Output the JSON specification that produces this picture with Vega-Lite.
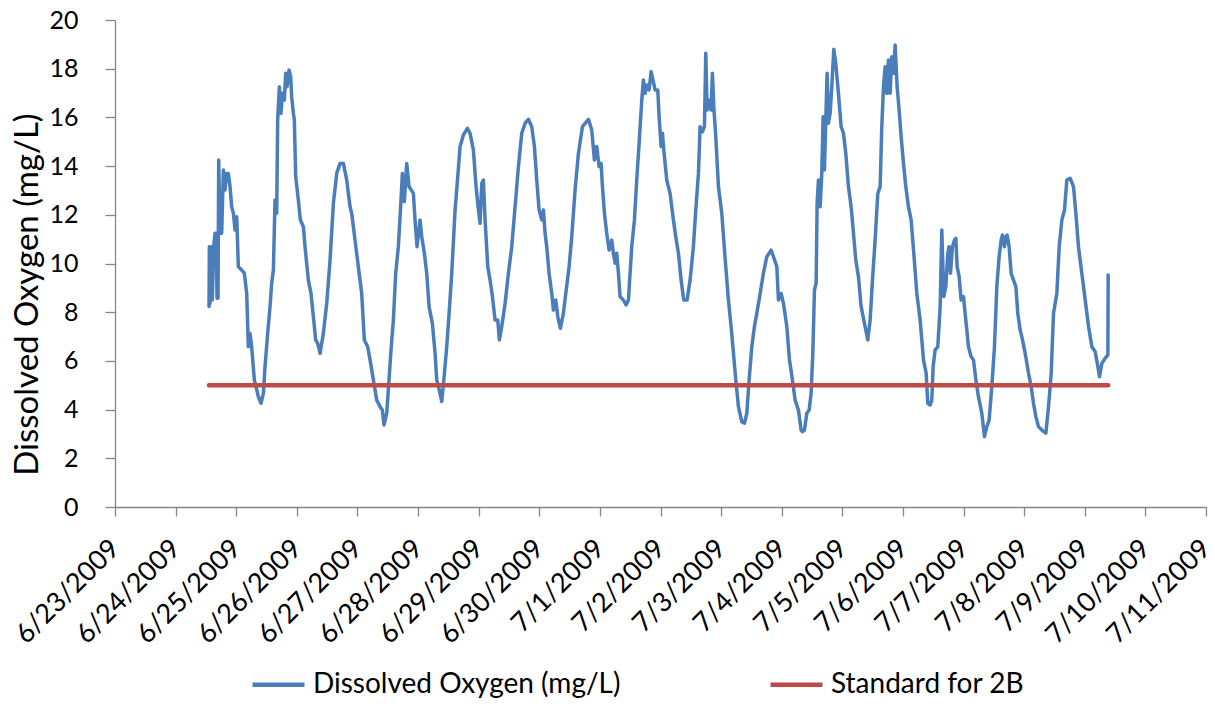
{
  "$schema": "https://vega.github.io/schema/vega-lite/v6.json",
  "width": 1091,
  "height": 487,
  "autosize": {"type": "none"},
  "padding": {"left": 115, "top": 20, "right": 9, "bottom": 197},
  "background": "white",
  "config": {
    "view": {"stroke": null},
    "font": "Lato",
    "axis": {"labelFont": "Lato", "titleFont": "Lato", "labelColor": "#000000", "titleColor": "#000000", "domainColor": "#868686", "tickColor": "#868686", "domainWidth": 1.3, "tickWidth": 1.3, "grid": false},
    "legend": {"labelFont": "Lato", "labelColor": "#000000"}
  },
  "datasets": {
    "oxygen": [
      {"day": 1.551, "do": 8.23}, {"day": 1.557, "do": 10.69}, {"day": 1.568, "do": 8.36}, {"day": 1.584, "do": 10.69}, {"day": 1.606, "do": 8.50}, {"day": 1.628, "do": 10.69}, {"day": 1.650, "do": 11.24}, {"day": 1.672, "do": 11.24}, {"day": 1.683, "do": 8.57}, {"day": 1.700, "do": 8.57}, {"day": 1.711, "do": 14.25}, {"day": 1.733, "do": 11.24}, {"day": 1.760, "do": 11.24}, {"day": 1.788, "do": 13.84}, {"day": 1.815, "do": 13.02}, {"day": 1.843, "do": 13.70}, {"day": 1.870, "do": 13.70}, {"day": 1.898, "do": 13.16}, {"day": 1.925, "do": 12.33}, {"day": 1.953, "do": 12.06}, {"day": 1.980, "do": 11.38}, {"day": 2.008, "do": 11.92}, {"day": 2.035, "do": 9.87}, {"day": 2.090, "do": 9.73}, {"day": 2.134, "do": 9.60}, {"day": 2.173, "do": 8.77}, {"day": 2.200, "do": 6.58}, {"day": 2.228, "do": 7.13}, {"day": 2.255, "do": 6.58}, {"day": 2.299, "do": 5.22}, {"day": 2.365, "do": 4.53}, {"day": 2.409, "do": 4.26}, {"day": 2.448, "do": 4.67}, {"day": 2.475, "do": 5.76}, {"day": 2.519, "do": 7.13}, {"day": 2.558, "do": 8.23}, {"day": 2.585, "do": 9.19}, {"day": 2.613, "do": 9.73}, {"day": 2.640, "do": 12.61}, {"day": 2.668, "do": 12.06}, {"day": 2.684, "do": 15.89}, {"day": 2.712, "do": 17.26}, {"day": 2.739, "do": 16.17}, {"day": 2.761, "do": 16.99}, {"day": 2.794, "do": 16.71}, {"day": 2.816, "do": 17.81}, {"day": 2.838, "do": 17.26}, {"day": 2.871, "do": 17.95}, {"day": 2.899, "do": 17.67}, {"day": 2.915, "do": 16.85}, {"day": 2.943, "do": 16.17}, {"day": 2.959, "do": 15.89}, {"day": 2.981, "do": 13.57}, {"day": 3.025, "do": 12.61}, {"day": 3.058, "do": 11.79}, {"day": 3.108, "do": 11.51}, {"day": 3.135, "do": 10.69}, {"day": 3.190, "do": 9.32}, {"day": 3.234, "do": 8.77}, {"day": 3.273, "do": 7.82}, {"day": 3.311, "do": 6.86}, {"day": 3.344, "do": 6.72}, {"day": 3.383, "do": 6.31}, {"day": 3.438, "do": 7.13}, {"day": 3.493, "do": 8.36}, {"day": 3.548, "do": 10.14}, {"day": 3.603, "do": 12.47}, {"day": 3.658, "do": 13.70}, {"day": 3.713, "do": 14.11}, {"day": 3.768, "do": 14.11}, {"day": 3.823, "do": 13.43}, {"day": 3.878, "do": 12.33},
      {"day": 3.905, "do": 12.06}, {"day": 3.960, "do": 10.96}, {"day": 4.015, "do": 9.87}, {"day": 4.070, "do": 8.77}, {"day": 4.114, "do": 6.86}, {"day": 4.169, "do": 6.58}, {"day": 4.208, "do": 6.04}, {"day": 4.263, "do": 5.22}, {"day": 4.318, "do": 4.39}, {"day": 4.373, "do": 4.12}, {"day": 4.411, "do": 3.98}, {"day": 4.439, "do": 3.37}, {"day": 4.483, "do": 3.85}, {"day": 4.521, "do": 5.22}, {"day": 4.554, "do": 6.45}, {"day": 4.593, "do": 7.68}, {"day": 4.631, "do": 9.60}, {"day": 4.675, "do": 10.69}, {"day": 4.719, "do": 12.61}, {"day": 4.741, "do": 13.70}, {"day": 4.774, "do": 12.54}, {"day": 4.813, "do": 14.11}, {"day": 4.851, "do": 13.16}, {"day": 4.923, "do": 12.88}, {"day": 4.950, "do": 11.79}, {"day": 4.983, "do": 10.69}, {"day": 5.033, "do": 11.79}, {"day": 5.061, "do": 11.10}, {"day": 5.104, "do": 10.42}, {"day": 5.143, "do": 9.60}, {"day": 5.182, "do": 8.23}, {"day": 5.236, "do": 7.54}, {"day": 5.281, "do": 6.31}, {"day": 5.308, "do": 5.22}, {"day": 5.363, "do": 4.67}, {"day": 5.391, "do": 4.33}, {"day": 5.435, "do": 5.49}, {"day": 5.473, "do": 6.58}, {"day": 5.512, "do": 7.95}, {"day": 5.556, "do": 9.60}, {"day": 5.611, "do": 12.20}, {"day": 5.655, "do": 13.57}, {"day": 5.693, "do": 14.80}, {"day": 5.748, "do": 15.28}, {"day": 5.814, "do": 15.55}, {"day": 5.858, "do": 15.35}, {"day": 5.913, "do": 14.66}, {"day": 5.957, "do": 13.16}, {"day": 5.996, "do": 12.20}, {"day": 6.023, "do": 11.65}, {"day": 6.051, "do": 13.29}, {"day": 6.078, "do": 13.43}, {"day": 6.106, "do": 11.79}, {"day": 6.150, "do": 9.87}, {"day": 6.188, "do": 9.32}, {"day": 6.227, "do": 8.64}, {"day": 6.271, "do": 7.68}, {"day": 6.315, "do": 7.68}, {"day": 6.342, "do": 6.86}, {"day": 6.381, "do": 7.41},
      {"day": 6.436, "do": 8.36}, {"day": 6.491, "do": 9.60}, {"day": 6.546, "do": 10.69}, {"day": 6.601, "do": 12.33}, {"day": 6.656, "do": 13.98}, {"day": 6.711, "do": 15.35}, {"day": 6.766, "do": 15.76}, {"day": 6.821, "do": 15.92}, {"day": 6.876, "do": 15.62}, {"day": 6.920, "do": 14.80}, {"day": 6.958, "do": 13.43}, {"day": 6.997, "do": 12.20}, {"day": 7.041, "do": 11.79}, {"day": 7.068, "do": 12.20}, {"day": 7.096, "do": 11.24}, {"day": 7.123, "do": 10.69}, {"day": 7.162, "do": 9.60}, {"day": 7.206, "do": 8.77}, {"day": 7.233, "do": 8.09}, {"day": 7.272, "do": 8.50}, {"day": 7.305, "do": 7.82}, {"day": 7.349, "do": 7.34}, {"day": 7.398, "do": 7.95}, {"day": 7.437, "do": 8.77}, {"day": 7.492, "do": 9.87}, {"day": 7.536, "do": 11.10}, {"day": 7.591, "do": 13.02}, {"day": 7.646, "do": 14.52}, {"day": 7.712, "do": 15.62}, {"day": 7.811, "do": 15.92}, {"day": 7.866, "do": 15.48}, {"day": 7.910, "do": 14.25}, {"day": 7.948, "do": 14.80}, {"day": 7.987, "do": 13.98}, {"day": 8.020, "do": 14.11}, {"day": 8.042, "do": 13.16}, {"day": 8.075, "do": 12.06}, {"day": 8.113, "do": 11.24}, {"day": 8.152, "do": 10.55}, {"day": 8.196, "do": 10.96}, {"day": 8.223, "do": 10.42}, {"day": 8.251, "do": 10.01}, {"day": 8.278, "do": 10.42}, {"day": 8.306, "do": 9.60}, {"day": 8.333, "do": 8.64}, {"day": 8.388, "do": 8.50}, {"day": 8.432, "do": 8.30}, {"day": 8.471, "do": 8.50}, {"day": 8.498, "do": 9.60}, {"day": 8.526, "do": 10.69}, {"day": 8.570, "do": 11.79}, {"day": 8.608, "do": 13.43}, {"day": 8.647, "do": 14.93}, {"day": 8.691, "do": 16.71}, {"day": 8.718, "do": 17.54}, {"day": 8.746, "do": 16.99}, {"day": 8.773, "do": 17.33}, {"day": 8.812, "do": 17.13}, {"day": 8.845, "do": 17.88},
      {"day": 8.911, "do": 17.13}, {"day": 8.955, "do": 17.13}, {"day": 8.977, "do": 16.03}, {"day": 9.010, "do": 14.80}, {"day": 9.032, "do": 15.35}, {"day": 9.054, "do": 14.66}, {"day": 9.103, "do": 13.43}, {"day": 9.158, "do": 12.88}, {"day": 9.213, "do": 11.79}, {"day": 9.252, "do": 11.10}, {"day": 9.296, "do": 10.42}, {"day": 9.340, "do": 9.32}, {"day": 9.384, "do": 8.50}, {"day": 9.439, "do": 8.50}, {"day": 9.488, "do": 9.32}, {"day": 9.543, "do": 10.69}, {"day": 9.582, "do": 12.20}, {"day": 9.626, "do": 13.70}, {"day": 9.653, "do": 15.62}, {"day": 9.692, "do": 15.41}, {"day": 9.725, "do": 15.62}, {"day": 9.747, "do": 18.63}, {"day": 9.769, "do": 16.30}, {"day": 9.807, "do": 16.71}, {"day": 9.835, "do": 16.30}, {"day": 9.857, "do": 17.81}, {"day": 9.879, "do": 16.44}, {"day": 9.912, "do": 15.21}, {"day": 9.956, "do": 13.16}, {"day": 10.011, "do": 12.06}, {"day": 10.044, "do": 10.96}, {"day": 10.077, "do": 9.87}, {"day": 10.121, "do": 8.50}, {"day": 10.165, "do": 7.41}, {"day": 10.204, "do": 6.31}, {"day": 10.242, "do": 5.22}, {"day": 10.286, "do": 4.12}, {"day": 10.341, "do": 3.50}, {"day": 10.385, "do": 3.44}, {"day": 10.424, "do": 3.85}, {"day": 10.462, "do": 5.22}, {"day": 10.506, "do": 6.58}, {"day": 10.550, "do": 7.41}, {"day": 10.589, "do": 7.95}, {"day": 10.644, "do": 8.77}, {"day": 10.698, "do": 9.60}, {"day": 10.754, "do": 10.28}, {"day": 10.792, "do": 10.42}, {"day": 10.825, "do": 10.55}, {"day": 10.864, "do": 10.28}, {"day": 10.919, "do": 9.87}, {"day": 10.946, "do": 8.50}, {"day": 10.990, "do": 8.77}, {"day": 11.029, "do": 8.36}, {"day": 11.084, "do": 7.41}, {"day": 11.128, "do": 6.04}, {"day": 11.177, "do": 5.22}, {"day": 11.221, "do": 4.39}, {"day": 11.276, "do": 3.98}, {"day": 11.320, "do": 3.16},
      {"day": 11.342, "do": 3.09}, {"day": 11.375, "do": 3.16}, {"day": 11.414, "do": 3.85}, {"day": 11.452, "do": 3.98}, {"day": 11.485, "do": 4.67}, {"day": 11.513, "do": 6.31}, {"day": 11.540, "do": 8.91}, {"day": 11.568, "do": 9.19}, {"day": 11.584, "do": 12.47}, {"day": 11.606, "do": 13.43}, {"day": 11.634, "do": 12.33}, {"day": 11.661, "do": 13.70}, {"day": 11.683, "do": 16.03}, {"day": 11.705, "do": 13.84}, {"day": 11.727, "do": 15.89}, {"day": 11.749, "do": 17.81}, {"day": 11.771, "do": 15.76}, {"day": 11.799, "do": 16.17}, {"day": 11.826, "do": 17.26}, {"day": 11.859, "do": 18.80}, {"day": 11.892, "do": 18.22}, {"day": 11.936, "do": 16.99}, {"day": 11.980, "do": 15.62}, {"day": 12.019, "do": 15.35}, {"day": 12.057, "do": 14.52}, {"day": 12.101, "do": 13.16}, {"day": 12.145, "do": 12.33}, {"day": 12.184, "do": 11.24}, {"day": 12.222, "do": 10.14}, {"day": 12.266, "do": 9.46}, {"day": 12.310, "do": 8.23}, {"day": 12.376, "do": 7.41}, {"day": 12.420, "do": 6.86}, {"day": 12.459, "do": 7.68}, {"day": 12.497, "do": 9.32}, {"day": 12.541, "do": 10.96}, {"day": 12.585, "do": 12.88}, {"day": 12.624, "do": 13.16}, {"day": 12.651, "do": 15.62}, {"day": 12.679, "do": 17.26}, {"day": 12.706, "do": 18.08}, {"day": 12.734, "do": 16.99}, {"day": 12.761, "do": 18.36}, {"day": 12.789, "do": 16.99}, {"day": 12.816, "do": 18.49}, {"day": 12.844, "do": 17.81}, {"day": 12.871, "do": 18.97}, {"day": 12.904, "do": 17.26}, {"day": 12.937, "do": 16.30}, {"day": 12.970, "do": 15.21}, {"day": 13.009, "do": 14.11}, {"day": 13.047, "do": 13.16}, {"day": 13.091, "do": 12.33}, {"day": 13.135, "do": 11.79}, {"day": 13.179, "do": 10.42}, {"day": 13.229, "do": 8.77}, {"day": 13.284, "do": 7.68}, {"day": 13.339, "do": 6.04}, {"day": 13.383, "do": 5.49}, {"day": 13.410, "do": 4.26}, {"day": 13.449, "do": 4.19}, {"day": 13.476, "do": 4.39}, {"day": 13.498, "do": 5.76}, {"day": 13.531, "do": 6.45}, {"day": 13.575, "do": 6.58}, {"day": 13.614, "do": 8.23}, {"day": 13.641, "do": 11.38}, {"day": 13.674, "do": 8.64}, {"day": 13.707, "do": 9.05}, {"day": 13.740, "do": 10.42}, {"day": 13.762, "do": 10.69}, {"day": 13.784, "do": 9.60}, {"day": 13.817, "do": 10.69},
      {"day": 13.850, "do": 10.96}, {"day": 13.873, "do": 11.03}, {"day": 13.894, "do": 9.87}, {"day": 13.927, "do": 9.46}, {"day": 13.960, "do": 8.50}, {"day": 13.999, "do": 8.64}, {"day": 14.037, "do": 7.68}, {"day": 14.081, "do": 6.58}, {"day": 14.125, "do": 6.17}, {"day": 14.164, "do": 6.04}, {"day": 14.203, "do": 5.22}, {"day": 14.246, "do": 4.53}, {"day": 14.301, "do": 3.85}, {"day": 14.345, "do": 2.89}, {"day": 14.384, "do": 3.30}, {"day": 14.422, "do": 3.57}, {"day": 14.466, "do": 4.94}, {"day": 14.510, "do": 6.58}, {"day": 14.549, "do": 9.05}, {"day": 14.587, "do": 10.28}, {"day": 14.620, "do": 10.96}, {"day": 14.642, "do": 11.17}, {"day": 14.675, "do": 10.69}, {"day": 14.697, "do": 11.10}, {"day": 14.719, "do": 11.17}, {"day": 14.752, "do": 10.69}, {"day": 14.785, "do": 9.60}, {"day": 14.824, "do": 9.32}, {"day": 14.863, "do": 9.05}, {"day": 14.895, "do": 7.95}, {"day": 14.934, "do": 7.27}, {"day": 14.973, "do": 6.86}, {"day": 15.017, "do": 6.31}, {"day": 15.072, "do": 5.49}, {"day": 15.116, "do": 4.94}, {"day": 15.154, "do": 4.26}, {"day": 15.193, "do": 3.71}, {"day": 15.237, "do": 3.30}, {"day": 15.292, "do": 3.16}, {"day": 15.358, "do": 3.03}, {"day": 15.402, "do": 4.12}, {"day": 15.446, "do": 5.49}, {"day": 15.484, "do": 7.95}, {"day": 15.539, "do": 8.77}, {"day": 15.578, "do": 10.69}, {"day": 15.622, "do": 11.79}, {"day": 15.666, "do": 12.20}, {"day": 15.704, "do": 13.43}, {"day": 15.759, "do": 13.50}, {"day": 15.814, "do": 13.16}, {"day": 15.853, "do": 12.06}, {"day": 15.896, "do": 10.69}, {"day": 15.951, "do": 9.60}, {"day": 16.007, "do": 8.50}, {"day": 16.062, "do": 7.41}, {"day": 16.117, "do": 6.58}, {"day": 16.172, "do": 6.38}, {"day": 16.216, "do": 5.76}, {"day": 16.243, "do": 5.35}, {"day": 16.282, "do": 5.90}, {"day": 16.337, "do": 6.11}, {"day": 16.381, "do": 6.24}, {"day": 16.386, "do": 9.53}
    ],
    "standard": [
      {"day": 1.551, "do": 5},
      {"day": 16.386, "do": 5}
    ]
  },
  "layer": [
    {
      "data": {"name": "oxygen"},
      "mark": {"type": "line", "strokeWidth": 3.5, "strokeJoin": "round", "strokeCap": "round"},
      "encoding": {
        "x": {
          "field": "day",
          "type": "quantitative",
          "scale": {"domain": [0, 18], "nice": false, "zero": false},
          "axis": {
            "title": null,
            "values": [0, 1, 2, 3, 4, 5, 6, 7, 8, 9, 10, 11, 12, 13, 14, 15, 16, 17, 18],
            "labelExpr": "timeFormat(datetime(2009, 5, 23 + datum.value), '%-m/%-d/%Y')",
            "labelAngle": -45,
            "labelAlign": "right",
            "labelBaseline": "middle",
            "labelFontSize": 27,
            "labelPadding": 28,
            "tickSize": 9,
            "labelOverlap": false,
            "labelFlush": false,
            "labelBound": false
          }
        },
        "y": {
          "field": "do",
          "type": "quantitative",
          "scale": {"domain": [0, 20], "nice": false},
          "axis": {
            "title": "Dissolved Oxygen (mg/L)",
            "titleFontSize": 33,
            "titleFontWeight": "normal",
            "titlePadding": 4,
            "titleY": 274,
            "values": [0, 2, 4, 6, 8, 10, 12, 14, 16, 18, 20],
            "labelFontSize": 25,
            "labelPadding": 27,
            "tickSize": 10,
            "labelOverlap": false,
            "labelFlush": false
          }
        },
        "color": {
          "datum": "Dissolved Oxygen (mg/L)",
          "type": "nominal",
          "scale": {"domain": ["Dissolved Oxygen (mg/L)", "Standard for 2B"], "range": ["#4A7EBB", "#BE4B48"]},
          "legend": {
            "title": null,
            "orient": "none",
            "legendX": 135,
            "legendY": 636,
            "direction": "horizontal",
            "symbolType": "stroke",
            "symbolSize": 2704,
            "symbolStrokeWidth": 4.5,
            "labelFontSize": 28,
            "labelOffset": 6,
            "columnPadding": 140,
            "padding": 0,
            "labelLimit": 500
          }
        }
      }
    },
    {
      "data": {"name": "standard"},
      "mark": {"type": "line", "strokeWidth": 4.5, "strokeCap": "round"},
      "encoding": {
        "x": {"field": "day", "type": "quantitative"},
        "y": {"field": "do", "type": "quantitative"},
        "color": {"datum": "Standard for 2B", "type": "nominal"}
      }
    }
  ]
}
